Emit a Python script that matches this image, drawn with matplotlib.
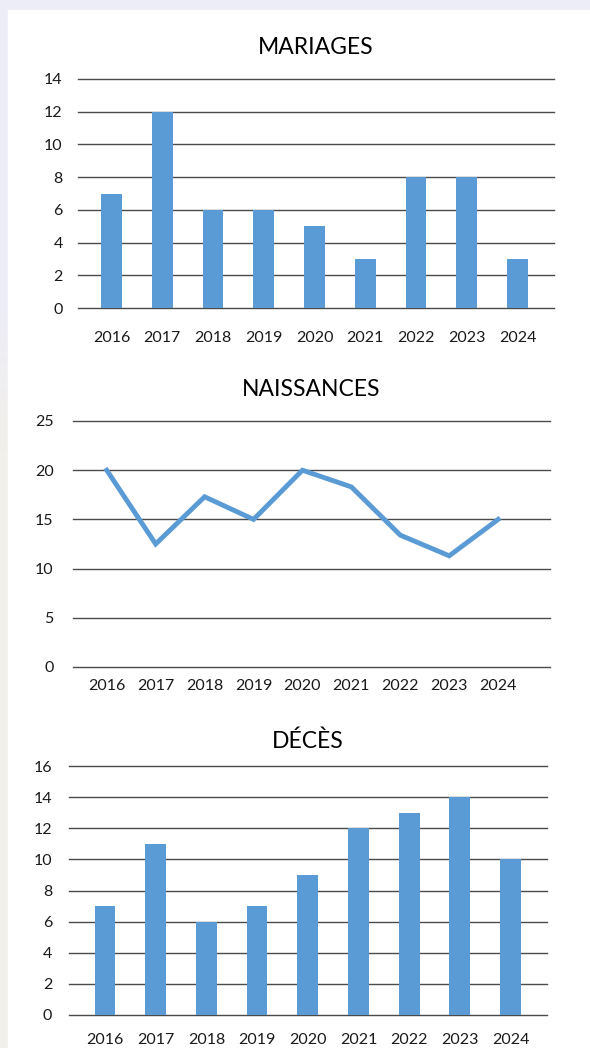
import numpy as np
import matplotlib
matplotlib.use("Agg")
import matplotlib.pyplot as plt

plt.rcParams['font.family'] = ['Lato', 'DejaVu Sans']

# données
annees = ["2016", "2017", "2018", "2019", "2020", "2021", "2022", "2023", "2024"]
mariages = [7, 12, 6, 6, 5, 3, 8, 8, 3]
naissances = [20, 12.5, 17.3, 15, 20, 18.3, 13.4, 11.3, 15]
deces = [7, 11, 6, 7, 9, 12, 13, 14, 10]

BLEU = "#5B9BD5"
GRILLE = "#4a4a4a"
TEXTE = "#1a1a1a"
W, H = 590, 1048

fig = plt.figure(figsize=(W / 100, H / 100), dpi=100)

# fond : bande lavande en haut, dégradé lavande -> beige sur la gauche
bg = fig.add_axes([0, 0, 1, 1], zorder=-10)
haut = np.array([237, 237, 248]) / 255
bas = np.array([242, 240, 234]) / 255
t = np.clip((np.linspace(0, H, 200) - 300) / 150, 0, 1)[:, None]
grad = (haut * (1 - t) + bas * t)[:, None, :]
bg.imshow(grad, aspect='auto', extent=[0, W, H, 0])
bg.add_patch(plt.Rectangle((8, 10), W - 8, H - 10, color="white"))
bg.set_xlim(0, W)
bg.set_ylim(H, 0)
bg.axis('off')


def px_axes(x0, x1, ytop, ybot):
    return fig.add_axes([x0 / W, 1 - ybot / H, (x1 - x0) / W, (ybot - ytop) / H])


def habiller(ax, ymax, pas, xpad, ypad):
    ax.set_ylim(0, ymax)
    ax.set_yticks(np.arange(0, ymax + 1, pas))
    ax.set_xticks(range(len(annees)))
    ax.set_xticklabels(annees)
    ax.grid(axis='y', color=GRILLE, linewidth=1.0)
    for g in ax.get_ygridlines():
        g.set_clip_on(False)
    ax.set_axisbelow(True)
    for s in ax.spines.values():
        s.set_visible(False)
    ax.tick_params(axis='x', length=0, pad=xpad, labelsize=11.5, colors=TEXTE)
    ax.tick_params(axis='y', length=0, pad=ypad, labelsize=11.5, colors=TEXTE)
    ax.patch.set_alpha(0)


# MARIAGES
ax1 = px_axes(78, 554, 79, 308)
ax1.bar(range(len(annees)), mariages, width=0.41, color=BLEU)
ax1.set_xlim(-0.66, 8.72)
habiller(ax1, 14, 2, 16.5, 11)
fig.text(316 / W, 1 - 48 / H, "MARIAGES", ha='center', va='center', fontsize=16.5, color="black")

# NAISSANCES
ax2 = px_axes(73, 550, 421, 667)
ax2.plot(range(len(annees)), naissances, color=BLEU, linewidth=3.5, solid_joinstyle='miter')
ax2.set_xlim(-0.69, 9.06)
habiller(ax2, 25, 5, 8.5, 14)
fig.text(311 / W, 1 - 389 / H, "NAISSANCES", ha='center', va='center', fontsize=16.5, color="black")

# DÉCÈS
ax3 = px_axes(69, 547, 766, 1015)
ax3.bar(range(len(annees)), deces, width=0.41, color=BLEU)
ax3.set_xlim(-0.71, 8.72)
habiller(ax3, 16, 2, 13, 12)
fig.text(308 / W, 1 - 741 / H, "DÉCÈS", ha='center', va='center', fontsize=16.5, color="black")

fig.savefig("out.png", dpi=100)
